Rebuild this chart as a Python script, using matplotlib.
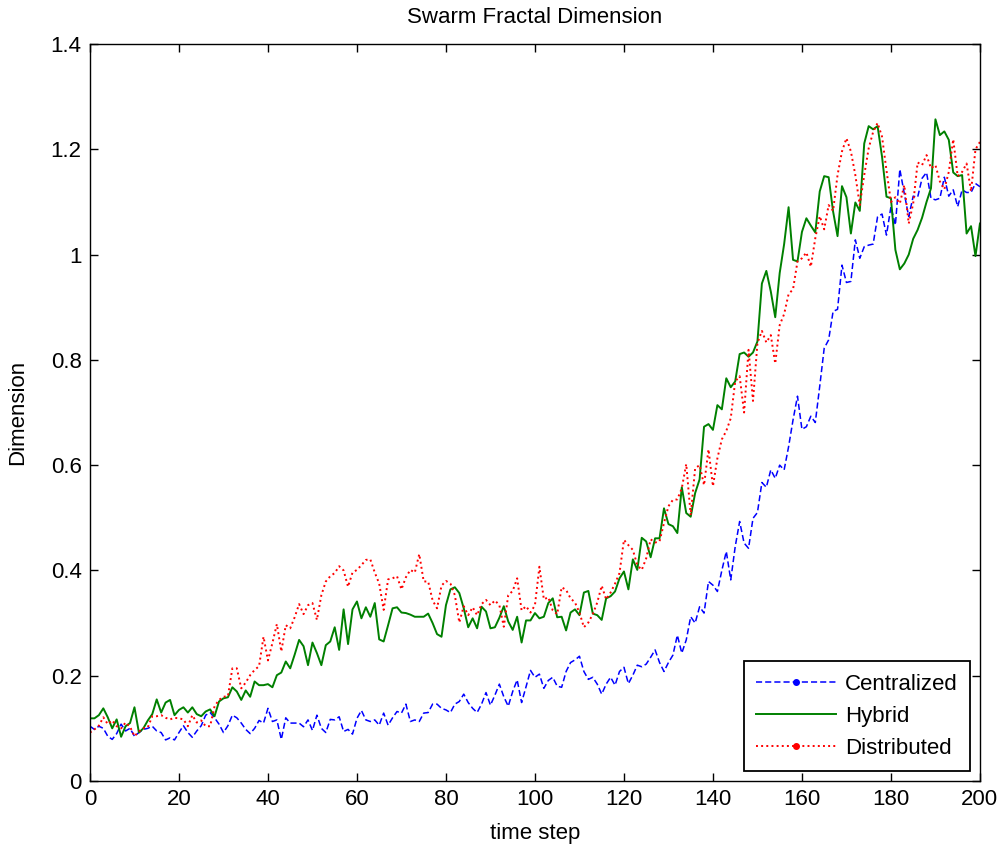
import numpy as np
import matplotlib
matplotlib.use("Agg")
import matplotlib.pyplot as plt
from matplotlib.lines import Line2D

plt.rcParams['font.family'] = ['Liberation Sans', 'DejaVu Sans']

time_step = np.arange(0, 201)

centralized = [
    0.104,
    0.098, 0.104, 0.100, 0.085, 0.079, 0.090, 0.108, 0.095, 0.100, 0.085,
    0.092, 0.098, 0.100, 0.104, 0.095, 0.092, 0.078, 0.082, 0.078, 0.092,
    0.105, 0.092, 0.083, 0.095, 0.105, 0.125, 0.130, 0.120, 0.108, 0.092,
    0.105, 0.125, 0.120, 0.110, 0.098, 0.090, 0.100, 0.115, 0.110, 0.138,
    0.113, 0.116, 0.079, 0.120, 0.110, 0.110, 0.110, 0.103, 0.116, 0.096,
    0.125, 0.100, 0.092, 0.117, 0.116, 0.122, 0.094, 0.098, 0.089, 0.119,
    0.134, 0.116, 0.113, 0.116, 0.106, 0.129, 0.106, 0.120, 0.132, 0.129,
    0.146, 0.113, 0.116, 0.113, 0.129, 0.130, 0.146, 0.146, 0.138, 0.135,
    0.130, 0.146, 0.151, 0.165, 0.149, 0.138, 0.130, 0.146, 0.168, 0.144,
    0.163, 0.184, 0.160, 0.142, 0.170, 0.192, 0.149, 0.179, 0.210, 0.197,
    0.203, 0.176, 0.191, 0.197, 0.180, 0.178, 0.208, 0.225, 0.230, 0.237,
    0.208, 0.193, 0.197, 0.184, 0.165, 0.184, 0.197, 0.182, 0.208, 0.216,
    0.185, 0.201, 0.220, 0.217, 0.222, 0.235, 0.249, 0.225, 0.208, 0.225,
    0.239, 0.277, 0.243, 0.268, 0.312, 0.300, 0.331, 0.319, 0.379, 0.372,
    0.360, 0.400, 0.436, 0.382, 0.445, 0.493, 0.452, 0.442, 0.499, 0.510,
    0.567, 0.558, 0.591, 0.575, 0.600, 0.591, 0.635, 0.686, 0.731, 0.668,
    0.673, 0.693, 0.681, 0.750, 0.822, 0.838, 0.892, 0.896, 0.980, 0.947,
    0.949, 1.028, 0.993, 1.015, 1.018, 1.020, 1.072, 1.077, 1.037, 1.091,
    1.056, 1.162, 1.116, 1.072, 1.111, 1.109, 1.145, 1.156, 1.107, 1.104,
    1.107, 1.147, 1.111, 1.123, 1.091, 1.123, 1.118, 1.118, 1.135, 1.129,
]

hybrid = [
    0.119,
    0.119, 0.125, 0.138, 0.121, 0.100, 0.117, 0.084, 0.104, 0.110, 0.140,
    0.092, 0.100, 0.115, 0.127, 0.155, 0.130, 0.149, 0.154, 0.125, 0.135,
    0.140, 0.130, 0.140, 0.127, 0.123, 0.132, 0.136, 0.123, 0.151, 0.157,
    0.159, 0.178, 0.170, 0.154, 0.172, 0.160, 0.189, 0.182, 0.182, 0.184,
    0.178, 0.201, 0.206, 0.227, 0.214, 0.240, 0.268, 0.256, 0.220, 0.263,
    0.243, 0.220, 0.258, 0.265, 0.292, 0.249, 0.326, 0.260, 0.326, 0.341,
    0.309, 0.330, 0.312, 0.338, 0.269, 0.265, 0.296, 0.328, 0.330, 0.320,
    0.319, 0.316, 0.312, 0.312, 0.312, 0.318, 0.300, 0.279, 0.274, 0.334,
    0.364, 0.368, 0.357, 0.328, 0.292, 0.309, 0.290, 0.331, 0.322, 0.290,
    0.292, 0.310, 0.332, 0.303, 0.287, 0.312, 0.263, 0.305, 0.305, 0.319,
    0.309, 0.312, 0.338, 0.347, 0.311, 0.312, 0.286, 0.320, 0.326, 0.315,
    0.358, 0.361, 0.318, 0.315, 0.306, 0.347, 0.351, 0.360, 0.385, 0.398,
    0.364, 0.421, 0.401, 0.462, 0.455, 0.425, 0.461, 0.461, 0.518, 0.488,
    0.484, 0.471, 0.558, 0.509, 0.502, 0.547, 0.573, 0.673, 0.678, 0.667,
    0.714, 0.706, 0.765, 0.748, 0.759, 0.811, 0.814, 0.806, 0.814, 0.835,
    0.945, 0.969, 0.930, 0.881, 0.965, 1.020, 1.090, 0.990, 0.987, 1.043,
    1.069, 1.055, 1.042, 1.120, 1.149, 1.147, 1.082, 1.035, 1.130, 1.109,
    1.040, 1.099, 1.083, 1.211, 1.244, 1.238, 1.244, 1.186, 1.110, 1.107,
    1.009, 0.972, 0.983, 1.000, 1.030, 1.047, 1.070, 1.100, 1.126, 1.257,
    1.227, 1.234, 1.218, 1.156, 1.149, 1.151, 1.040, 1.054, 0.997, 1.059,
]

distributed = [
    0.092,
    0.098, 0.105, 0.121, 0.108, 0.115, 0.104, 0.100, 0.111, 0.103, 0.085,
    0.094, 0.100, 0.102, 0.123, 0.123, 0.125, 0.120, 0.117, 0.120, 0.119,
    0.117, 0.104, 0.125, 0.111, 0.115, 0.104, 0.104, 0.142, 0.154, 0.160,
    0.161, 0.214, 0.214, 0.176, 0.187, 0.201, 0.211, 0.218, 0.274, 0.229,
    0.262, 0.298, 0.246, 0.296, 0.290, 0.311, 0.336, 0.317, 0.334, 0.338,
    0.306, 0.353, 0.379, 0.389, 0.395, 0.408, 0.400, 0.369, 0.396, 0.401,
    0.410, 0.420, 0.421, 0.396, 0.375, 0.325, 0.383, 0.385, 0.389, 0.364,
    0.387, 0.401, 0.396, 0.431, 0.379, 0.379, 0.343, 0.328, 0.371, 0.380,
    0.375, 0.353, 0.301, 0.332, 0.315, 0.330, 0.315, 0.336, 0.344, 0.334,
    0.343, 0.334, 0.293, 0.353, 0.361, 0.385, 0.324, 0.332, 0.320, 0.334,
    0.407, 0.345, 0.349, 0.324, 0.317, 0.368, 0.363, 0.347, 0.339, 0.320,
    0.292, 0.301, 0.317, 0.339, 0.371, 0.345, 0.358, 0.375, 0.395, 0.458,
    0.448, 0.439, 0.410, 0.401, 0.423, 0.459, 0.453, 0.455, 0.490, 0.522,
    0.534, 0.535, 0.556, 0.602, 0.505, 0.594, 0.600, 0.562, 0.630, 0.560,
    0.613, 0.649, 0.665, 0.689, 0.759, 0.769, 0.700, 0.819, 0.722, 0.832,
    0.855, 0.833, 0.847, 0.793, 0.866, 0.887, 0.925, 0.934, 0.987, 0.993,
    1.004, 0.977, 1.031, 1.073, 1.048, 1.094, 1.083, 1.151, 1.196, 1.221,
    1.196, 1.151, 1.094, 1.151, 1.202, 1.233, 1.250, 1.224, 1.160, 1.100,
    1.109, 1.097, 1.132, 1.059, 1.097, 1.175, 1.170, 1.189, 1.164, 1.170,
    1.139, 1.124, 1.157, 1.219, 1.149, 1.157, 1.173, 1.120, 1.200, 1.214,
]

x_ticks = [0, 20, 40, 60, 80, 100, 120, 140, 160, 180, 200]
y_ticks = [0, 0.2, 0.4, 0.6, 0.8, 1.0, 1.2, 1.4]
y_tick_labels = ['0', '0.2', '0.4', '0.6', '0.8', '1', '1.2', '1.4']
series_names = ['Centralized', 'Hybrid', 'Distributed']

FS = 16

fig = plt.figure(figsize=(10.03, 8.5), dpi=100)
ax = fig.add_axes([0.0897, 0.0812, 0.8873, 0.8670])

ax.plot(time_step, centralized, color='#0000ff', linestyle='--', linewidth=1.1,
        dashes=(4, 2))
ax.plot(time_step, hybrid, color='#008000', linestyle='-', linewidth=1.4)
ax.plot(time_step, distributed, color='#ff0000', linestyle=':', linewidth=1.4)

ax.set_xlim(0, 200)
ax.set_ylim(0, 1.4)
ax.set_xticks(x_ticks)
ax.set_xticklabels([str(v) for v in x_ticks])
ax.set_yticks(y_ticks)
ax.set_yticklabels(y_tick_labels)
ax.tick_params(direction='in', length=6, width=1, top=True, right=True,
               labelsize=FS, pad=6, colors='black')
for sp in ax.spines.values():
    sp.set_linewidth(1.0)

ax.set_title('Swarm Fractal Dimension', fontsize=FS, pad=15)
ax.set_xlabel('time step', fontsize=FS, labelpad=9)
ax.set_ylabel('Dimension', fontsize=FS, labelpad=16)

handles = [
    Line2D([], [], color='#0000ff', linestyle='--', dashes=(4, 2), linewidth=1.1,
           marker='.', markersize=8),
    Line2D([], [], color='#008000', linestyle='-', linewidth=1.4),
    Line2D([], [], color='#ff0000', linestyle=':', linewidth=1.4,
           marker='.', markersize=8),
]
leg = ax.legend(handles, series_names, loc='lower right', fontsize=FS,
                handlelength=3.6, handletextpad=0.4, borderaxespad=0.45,
                fancybox=False, framealpha=1, edgecolor='black',
                borderpad=0.55, labelspacing=0.5, numpoints=1)
leg.get_frame().set_linewidth(1.3)

fig.savefig('out.png', dpi=100)
